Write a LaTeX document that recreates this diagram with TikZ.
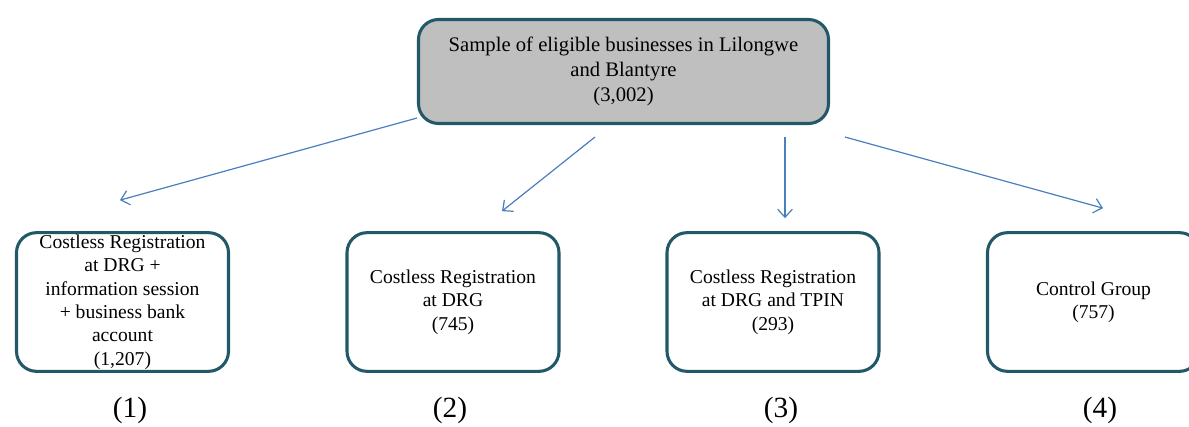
\documentclass[tikz,border=0pt]{standalone}
\usepackage{fontspec}
\setmainfont{Liberation Serif}
\usepackage{tikz}
\usetikzlibrary{arrows.meta, calc}
\definecolor{boxteal}{RGB}{35,88,104}
\definecolor{boxgray}{RGB}{191,191,191}
\definecolor{arrowblue}{RGB}{74,126,190}

\begin{document}
\begin{tikzpicture}[
  x=0.75pt, y=0.75pt,
  box/.style={rectangle, rounded corners=15pt, draw=boxteal, line width=2.3pt, fill=white,
              minimum width=159pt, minimum height=104pt, align=center, inner sep=0pt,
              font=\fontsize{14.7}{17.5}\selectfont},
  mainbox/.style={box, fill=boxgray, minimum width=307.5pt, minimum height=78pt,
              font=\fontsize{15.5}{18.75}\selectfont},
  arrow/.style={-{Straight Barb[length=6pt, width=11pt]}, line width=0.9pt, color=arrowblue},
  num/.style={font=\fontsize{22}{26}\selectfont}
]
\clip (0,0) rectangle (1189,426);

\node[mainbox] (sample) at (623.5,354.5) {Sample of eligible businesses in Lilongwe\\and Blantyre\\(3,002)};

\node[box] (regbank) at (122.5,124) {Costless Registration\\at DRG +\\information session\\+ business bank\\account\\(1,207)};
\node[box] (reg) at (453,124) {Costless Registration\\at DRG\\(745)};
\node[box] (regtpin) at (773,124) {Costless Registration\\at DRG and TPIN\\(293)};
\node[box] (control) at (1093.5,124) {Control Group\\(757)};

\node[num] (num1) at (130,16) {(1)};
\node[num] (num2) at (450,16) {(2)};
\node[num] (num3) at (781,16) {(3)};
\node[num] (num4) at (1100,16) {(4)};

\draw[arrow] ($(sample.south west)+(0,7)$) -- ($(regbank.north)+(-2.5,31)$);
\draw[arrow] ($(sample.south)+(-28.5,-12)$) -- ($(reg.north)+(49,20)$);
\draw[arrow] ($(sample.south)+(161.5,-12)$) -- ($(regtpin.north)+(12,13)$);
\draw[arrow] ($(sample.south)+(221.5,-12)$) -- ($(control.north)+(9.5,23)$);

\end{tikzpicture}
\end{document}
